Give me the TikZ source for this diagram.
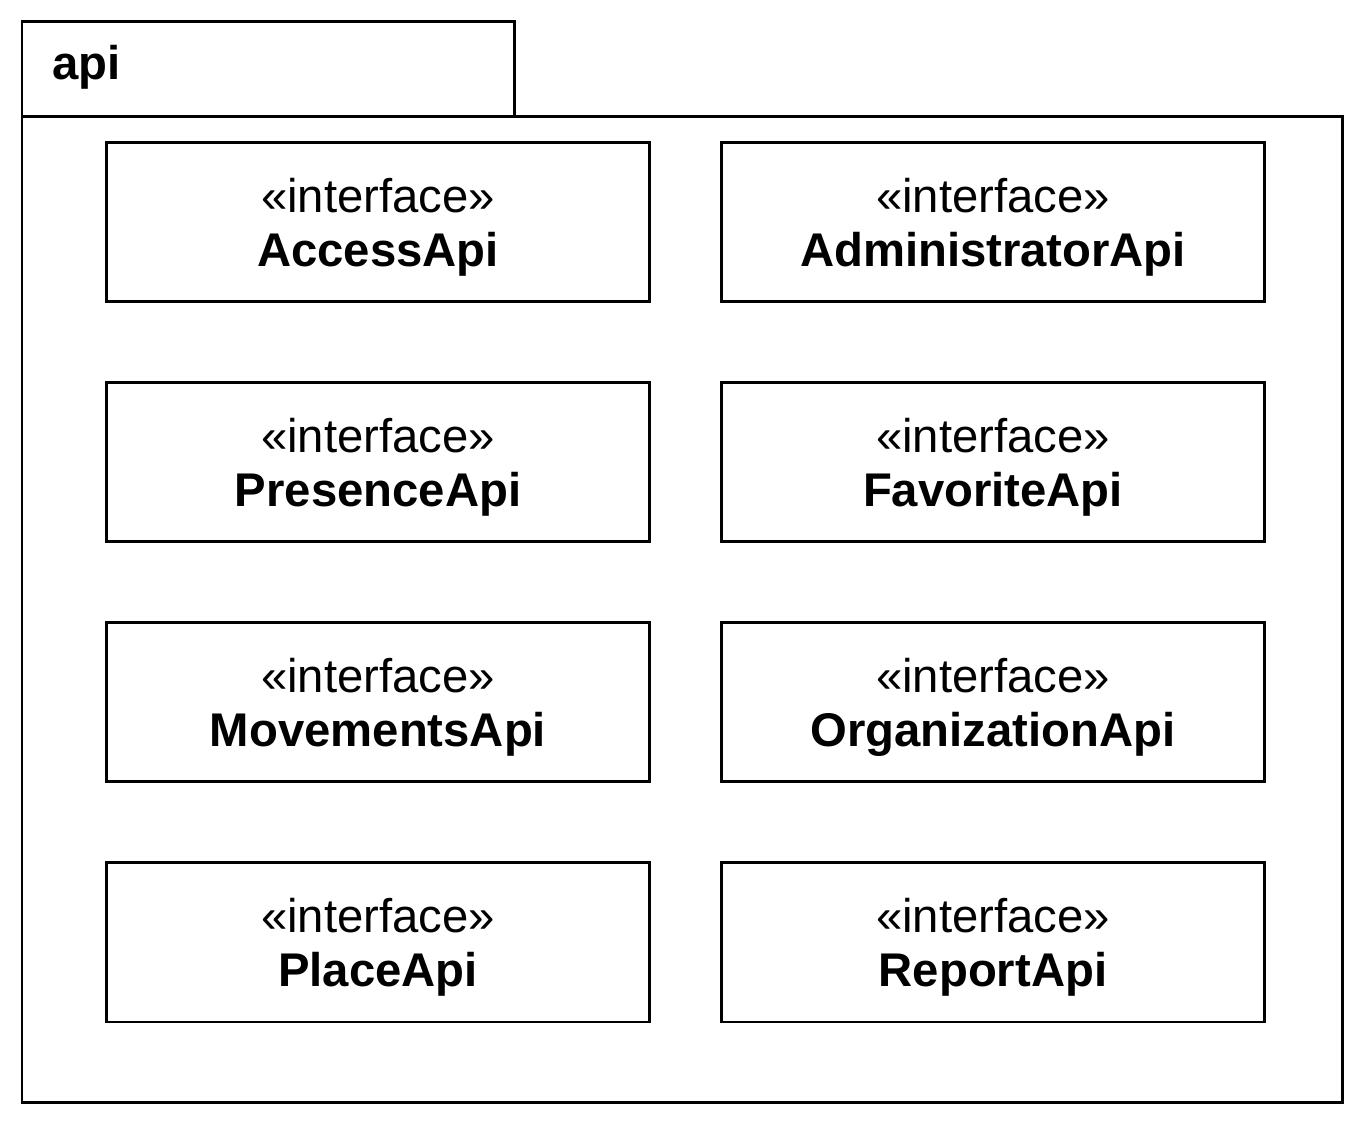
\documentclass[tikz,border=0pt]{standalone}
\usepackage{fontspec}
\setmainfont{Liberation Sans}
\usepackage{tikz}

\newcommand{\ifacehead}{\rule{0pt}{25.3pt}«interface»}

\tikzset{
  pkgline/.style={line width=1.7pt},
  iface/.style={draw,line width=1.7pt,minimum width=10.88cm,minimum height=3.2cm,
    align=center,font=\fontsize{26.9}{30.7}\selectfont},
}

\begin{document}
\begin{tikzpicture}[x=0.02cm,y=-0.02cm]
  \useasboundingbox (0,0) rectangle (1364,1124);
  % package frame
  \draw[pkgline] (22,22) rectangle (514,117);
  \draw[pkgline] (22,117) rectangle (1342,1102);
  \node[anchor=base west,inner sep=0,font=\fontsize{26.9}{30}\selectfont\bfseries] (pkg) at (52,80) {api};
  % interfaces
  \node[iface] (access) at (378,222) {\ifacehead\\\textbf{AccessApi}};
  \node[iface] (admin) at (993,222) {\ifacehead\\\textbf{AdministratorApi}};
  \node[iface] (presence) at (378,462) {\ifacehead\\\textbf{PresenceApi}};
  \node[iface] (favorite) at (993,462) {\ifacehead\\\textbf{FavoriteApi}};
  \node[iface] (movements) at (378,702) {\ifacehead\\\textbf{MovementsApi}};
  \node[iface] (organization) at (993,702) {\ifacehead\\\textbf{OrganizationApi}};
  \node[iface] (place) at (378,942) {\ifacehead\\\textbf{PlaceApi}};
  \node[iface] (report) at (993,942) {\ifacehead\\\textbf{ReportApi}};
\end{tikzpicture}
\end{document}
